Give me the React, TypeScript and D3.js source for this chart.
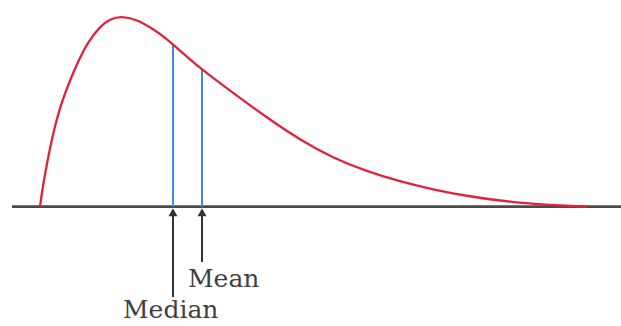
import React from "react";
import * as d3 from "d3";

// Skewed distribution curve (x in arbitrary units, density relative to peak)
const curveX = [0, 0.037, 0.091, 0.183, 0.305, 0.426, 0.548, 0.695, 0.859, 1.097, 1.28, 1.481, 1.773, 2.066, 2.322, 2.431, 2.687, 2.962, 3.528, 4.15, 4.753, 5.356, 5.978, 6.581, 7.185, 7.806, 8.41, 9.013, 9.506, 10];
const curveY = [0, 0.077, 0.172, 0.309, 0.462, 0.572, 0.662, 0.762, 0.856, 0.948, 0.985, 1.0, 0.983, 0.933, 0.88, 0.851, 0.788, 0.719, 0.598, 0.467, 0.351, 0.256, 0.185, 0.132, 0.09, 0.056, 0.031, 0.015, 0.006, 0];

const markerNames = ["Median", "Mean"];
const markerX = [2.431, 2.962];
const markerHeight = [0.851, 0.719];

const W = 621;
const H = 326;

export default function App() {
  const x = d3.scaleLinear().domain([0, 10]).range([40, 587]);
  const y = d3.scaleLinear().domain([0, 1]).range([206.7, 16.2]);
  const pts: [number, number][] = curveX.map((v, i) => [v, curveY[i]]);
  const line = d3
    .line<[number, number]>()
    .x((d) => x(d[0]))
    .y((d) => y(d[1]))
    .curve(d3.curveBasis);

  const base = y(0);
  const arrowEnds = [297, 262];
  const labelPos = [
    { x: 123, y: 318 },
    { x: 188, y: 287 },
  ];

  return (
    <svg
      width={W}
      height={H}
      style={{ position: "absolute", left: 0, top: 0, background: "#fff" }}
    >
      {/* baseline */}
      <line x1={12} x2={W} y1={base} y2={base} stroke="#4a4a4a" strokeWidth={2.8} />
      {/* blue verticals */}
      {markerX.map((m, i) => (
        <line
          key={"v" + i}
          x1={x(m)}
          x2={x(m)}
          y1={base}
          y2={y(markerHeight[i])}
          stroke="#3d8fd4"
          strokeWidth={2}
        />
      ))}
      {/* curve */}
      <path d={line(pts) || ""} fill="none" stroke="#e2213d" strokeWidth={2.3} />
      {/* arrows */}
      {markerX.map((m, i) => {
        const cx = x(m);
        const tip = base + 1.5;
        return (
          <g key={"a" + i}>
            <line x1={cx} x2={cx} y1={tip + 6} y2={arrowEnds[i]} stroke="#333" strokeWidth={2} />
            <path
              d={`M${cx},${tip} L${cx - 4.5},${tip + 8} L${cx + 4.5},${tip + 8} Z`}
              fill="#333"
            />
          </g>
        );
      })}
      {/* labels */}
      {markerNames.map((n, i) => (
        <text
          key={"t" + i}
          x={labelPos[i].x}
          y={labelPos[i].y}
          fontFamily="DejaVu Serif"
          fontSize={25}
          fill="#3f3f3f"
        >
          {n}
        </text>
      ))}
    </svg>
  );
}
